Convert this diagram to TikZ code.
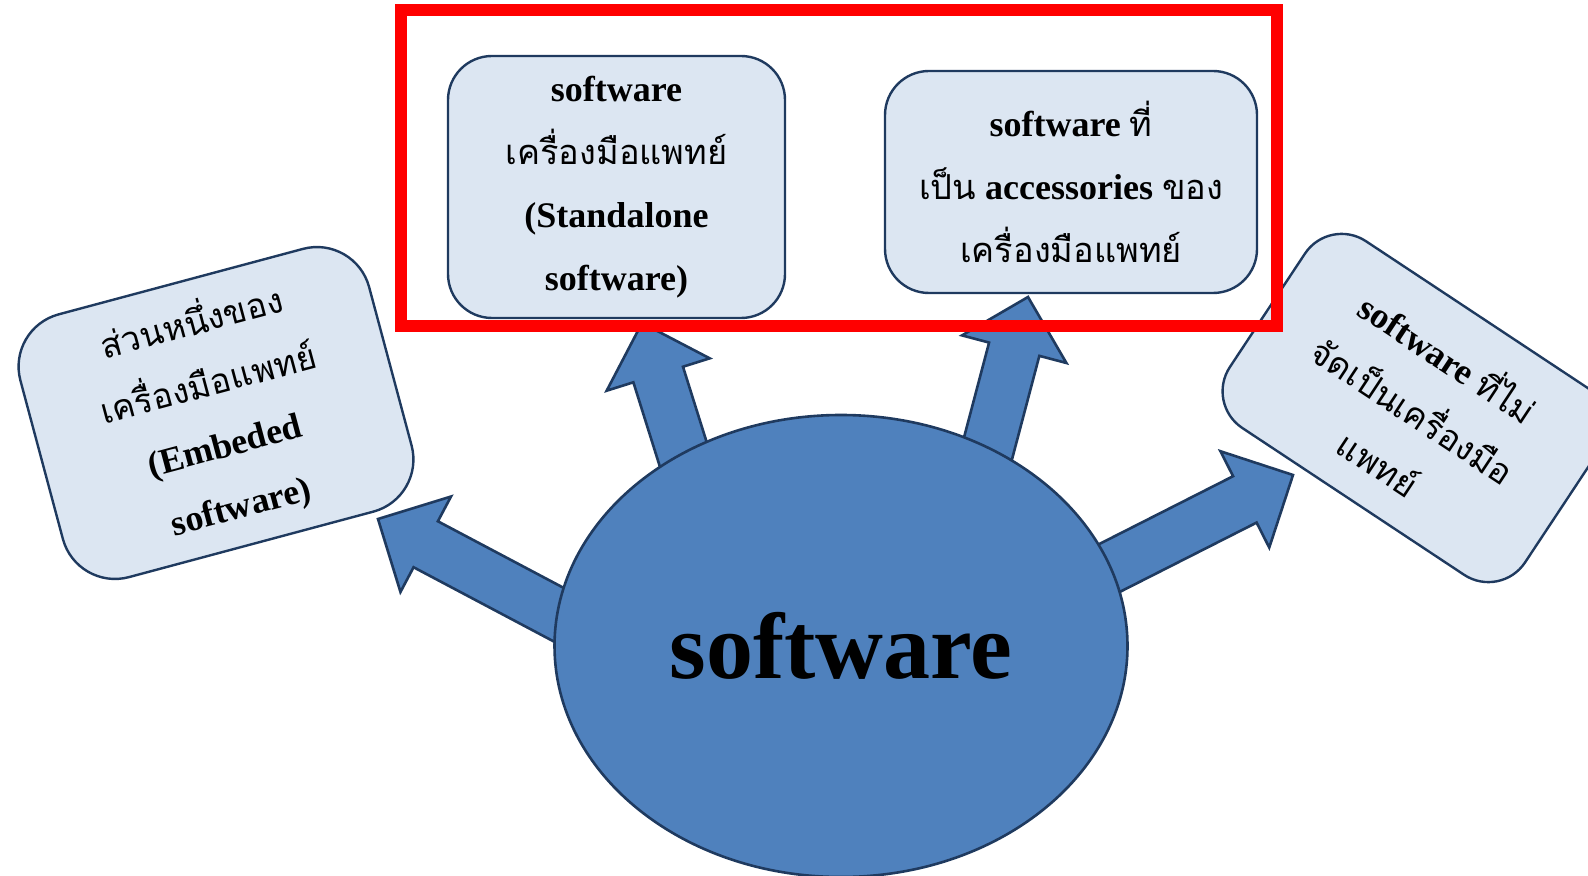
\documentclass[tikz,border=0pt]{standalone}
\usepackage{fontspec}
\setmainfont{Liberation Serif}
\newfontfamily\thaifont[Script=Thai]{Loma}
\usetikzlibrary{calc,shapes.geometric,backgrounds}
\definecolor{boxfill}{HTML}{DCE6F2}
\definecolor{boxline}{HTML}{1F3A5F}
\definecolor{swblue}{HTML}{4F81BD}
\newcommand{\thtext}[1]{{\thaifont\mdseries\fontsize{17.2}{31.5}\selectfont #1}}
% block arrow from a root inside the ellipse to a free tip
\newcommand{\bigarrow}[2]{%
  \coordinate (hb) at ($(#2)!27pt!(#1)$);
  \draw[arrowbody] (#2) -- ($(hb)!27pt!90:(#1)$) -- ($(hb)!13pt!90:(#1)$)
    -- ($(#1)!13pt!-90:(#2)$) -- ($(#1)!13pt!90:(#2)$)
    -- ($(hb)!13pt!-90:(#1)$) -- ($(hb)!27pt!-90:(#1)$) -- cycle;
}
\begin{document}
\begin{tikzpicture}[line join=round, x=0.5pt, y=-0.5pt,
    every node/.style={font=\bfseries\fontsize{18}{31.5}\selectfont},
    topic/.style={draw=boxline, line width=1.2pt, fill=boxfill, rounded corners=22pt, align=center, inner sep=0pt},
    arrowbody/.style={draw=boxline, line width=1.3pt, fill=swblue, line join=miter},
    redframe/.style={draw=red, line width=6pt, line join=miter, inner sep=0pt}]
	\useasboundingbox (0,0) rectangle (1588,876);
	% Vòng tròn trung tâm
	\node[draw=boxline, line width=1.3pt, fill=swblue, ellipse, inner sep=0pt,
	  minimum width=286.5pt, minimum height=231pt,
	  font=\bfseries\fontsize{47}{50}\selectfont] (sw) at (841,646) {software};
	% Các hộp
	\node[topic, minimum width=168.5pt, minimum height=131pt] (stand) at (616.5,187)
	  {software\\\thtext{เครื่องมือแพทย์}\\(Standalone\\software)};
	\node[topic, minimum width=186pt, minimum height=111pt] (acc) at (1071,182)
	  {software \thtext{ที่}\\\thtext{เป็น} accessories \thtext{ของ}\\\thtext{เครื่องมือแพทย์}};
	\node[topic, rounded corners=27pt, rotate=15, minimum width=180.5pt, minimum height=136pt] (emb) at (216,413)
	  {\thtext{ส่วนหนึ่งของ}\\\thtext{เครื่องมือแพทย์}\\(Embeded\\software)};
	\node[topic, rotate=-33.5, minimum width=177pt, minimum height=112pt] (non) at (1415,408)
	  {software \thtext{ที่ไม่}\\\thtext{จัดเป็นเครื่องมือ}\\\thtext{แพทย์}};
	% Khung đỏ
	\node[redframe, minimum width=438pt, minimum height=158pt] (hilite) at (839,168.5) {};
	% Các mũi tên
	\coordinate (tipE) at (378,519);
	\coordinate (tipS) at (642,323);
	\coordinate (tipA) at (1028,297);
	\coordinate (tipN) at (1293,475);
	\begin{scope}[on background layer]
		\coordinate (rootE) at ($(sw.center)+(-242,-10)$);
		\coordinate (rootS) at ($(sw.center)+(-139,-132)$);
		\coordinate (rootA) at ($(sw.center)+(136,-156)$);
		\coordinate (rootN) at ($(sw.center)+(229,-58)$);
		\bigarrow{rootE}{tipE}
		\bigarrow{rootS}{tipS}
		\bigarrow{rootA}{tipA}
		\bigarrow{rootN}{tipN}
	\end{scope}
\end{tikzpicture}
\end{document}
